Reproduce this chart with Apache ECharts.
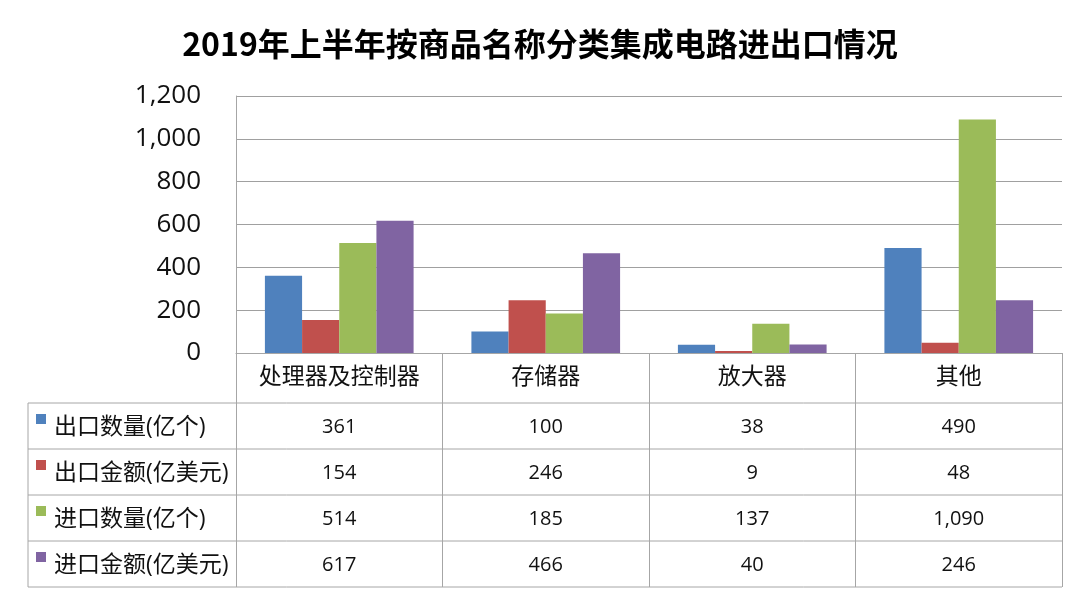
<!DOCTYPE html>
<html lang="zh-CN">
<head>
  <meta charset="UTF-8">
  <title>2019年上半年按商品名称分类集成电路进出口情况</title>
  <script src="https://cdn.jsdelivr.net/npm/echarts@6/dist/echarts.min.js"></script>
  <style>
    html, body { margin: 0; padding: 0; background: #fff; }
    #chart { width: 1080px; height: 594px; }
  </style>
</head>
<body>
  <div id="chart"></div>

  <script type="text/javascript">
    const categories = ['处理器及控制器', '存储器', '放大器', '其他'];
    const seriesNames = ['出口数量(亿个)', '出口金额(亿美元)', '进口数量(亿个)', '进口金额(亿美元)'];
    const exportQty = [361, 100, 38, 490];
    const exportValue = [154, 246, 9, 48];
    const importQty = [514, 185, 137, 1090];
    const importValue = [617, 466, 40, 246];
    const colors = ['#4F81BD', '#C0504D', '#9BBB59', '#8064A2'];
    const yTicks = [0, 1200, 200]; // min, max, interval

    const seriesData = [exportQty, exportValue, importQty, importValue];

    const textFont = "'Open Sans', 'Noto Sans CJK SC', sans-serif";
    const lineColor = '#A6A6A6';
    const textColor = '#111';

    // plot area / table layout
    const plotLeft = 236;
    const plotRight = 1062;
    const plotTop = 96;
    const axisY = 353;
    const tableLeft = 28;
    const headerH = 50;
    const rowH = 46;
    const tableBottom = axisY + headerH + rowH * seriesNames.length;

    const fmt = v => v.toLocaleString('en-US');

    const myChart = echarts.init(document.getElementById('chart'));

    const option = {
      animation: false,
      backgroundColor: '#fff',
      color: colors,
      title: {
        text: '2019年上半年按商品名称分类集成电路进出口情况',
        left: 'center',
        top: 23,
        textStyle: {
          fontFamily: "'Noto Sans CJK SC', sans-serif",
          fontWeight: 'bold',
          fontSize: 32,
          color: '#000',
        },
      },
      grid: {
        left: plotLeft,
        right: 1080 - plotRight,
        top: plotTop,
        bottom: 594 - axisY,
        containLabel: false,
      },
      xAxis: {
        type: 'category',
        data: categories,
        axisLine: { show: true, lineStyle: { color: lineColor, width: 1 } },
        axisTick: {
          show: true,
          interval: 0,
          inside: false,
          length: tableBottom - axisY,
          lineStyle: { color: lineColor, width: 1 },
        },
        axisLabel: {
          interval: 0,
          margin: 13,
          fontFamily: textFont,
          fontSize: 23,
          color: textColor,
        },
        splitLine: { show: false },
      },
      yAxis: {
        type: 'value',
        min: yTicks[0],
        max: yTicks[1],
        interval: yTicks[2],
        axisLine: { show: true, lineStyle: { color: lineColor, width: 1 } },
        axisTick: { show: false },
        axisLabel: {
          margin: 35,
          fontFamily: textFont,
          fontSize: 26,
          color: textColor,
          formatter: v => fmt(v),
        },
        splitLine: { lineStyle: { color: '#A0A0A0', width: 1 } },
      },
      series: seriesNames.map((name, i) => ({
        name,
        type: 'bar',
        data: seriesData[i],
        barGap: '0%',
        barCategoryGap: '28%',
        itemStyle: { color: colors[i] },
      })),
    };

    myChart.setOption(option);

    // data table below the axis, placed on the category axis positions
    const graphics = [];
    const rowTops = seriesNames.map((_, i) => axisY + headerH + rowH * i);

    rowTops.concat([tableBottom]).forEach(y => {
      graphics.push({
        type: 'line',
        shape: { x1: tableLeft, y1: y, x2: plotRight, y2: y },
        style: { stroke: lineColor, lineWidth: 1 },
        silent: true,
      });
    });
    graphics.push({
      type: 'line',
      shape: { x1: tableLeft, y1: rowTops[0], x2: tableLeft, y2: tableBottom },
      style: { stroke: lineColor, lineWidth: 1 },
      silent: true,
    });

    seriesNames.forEach((name, i) => {
      const cy = rowTops[i] + rowH / 2;
      graphics.push({
        type: 'rect',
        shape: { x: 36, y: cy - 12, width: 10, height: 10 },
        style: { fill: colors[i] },
        silent: true,
      });
      graphics.push({
        type: 'text',
        x: 54,
        y: cy + 1,
        style: {
          text: name,
          fontFamily: textFont,
          fontSize: 23,
          fill: textColor,
          textAlign: 'left',
          textVerticalAlign: 'middle',
        },
        silent: true,
      });
      categories.forEach((cat, j) => {
        const cx = myChart.convertToPixel({ xAxisIndex: 0 }, j);
        graphics.push({
          type: 'text',
          x: cx,
          y: cy + 1,
          style: {
            text: fmt(seriesData[i][j]),
            fontFamily: textFont,
            fontSize: 20,
            fill: textColor,
            textAlign: 'center',
            textVerticalAlign: 'middle',
          },
          silent: true,
        });
      });
    });

    myChart.setOption({ graphic: graphics });
  </script>
</body>
</html>
